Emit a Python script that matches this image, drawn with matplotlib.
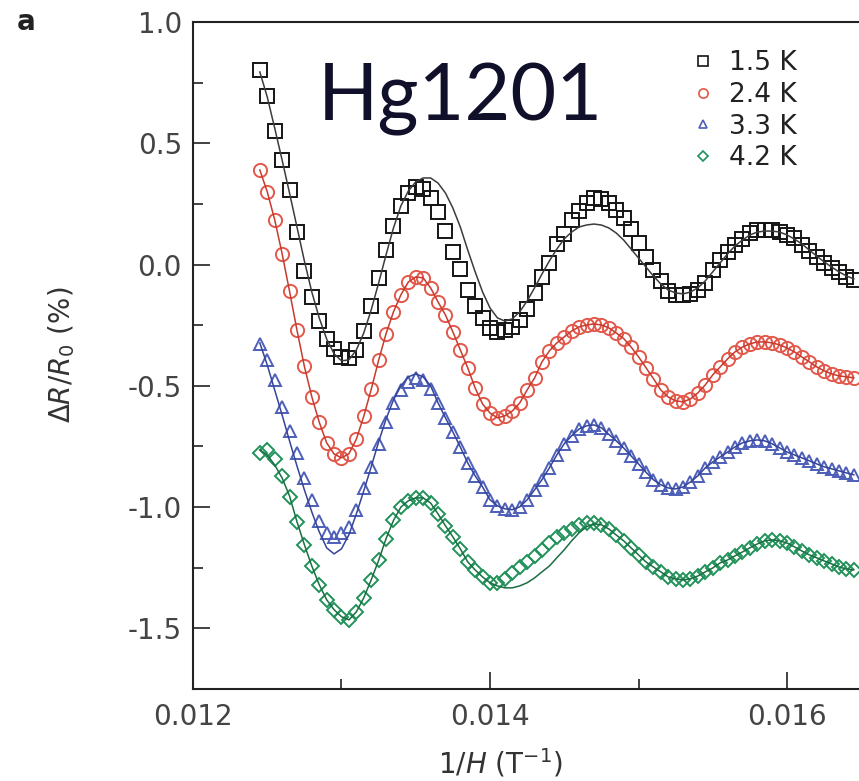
import numpy as np
import matplotlib as mpl
mpl.use('Agg')
import matplotlib.pyplot as plt
from matplotlib.lines import Line2D
from matplotlib.ticker import MultipleLocator, FormatStrFormatter

mpl.rcParams['axes.unicode_minus'] = False
mpl.rcParams['mathtext.fontset'] = 'dejavusans'

# 1/H grid of the readings (T^-1)
inv_h = np.round(np.linspace(0.01245, 0.01645, 81), 5)

labels = ['1.5 K', '2.4 K', '3.3 K', '4.2 K']

# Delta R / R0 (%) data points
dr_15 = [0.802, 0.695, 0.551, 0.431, 0.308, 0.135, -0.025, -0.134, -0.233, -0.306,
         -0.348, -0.380, -0.385, -0.352, -0.273, -0.170, -0.055, 0.060, 0.160, 0.240,
         0.295, 0.320, 0.312, 0.274, 0.217, 0.139, 0.052, -0.018, -0.105, -0.170,
         -0.220, -0.261, -0.278, -0.270, -0.257, -0.228, -0.183, -0.117, -0.051, 0.007,
         0.085, 0.126, 0.184, 0.221, 0.254, 0.275, 0.270, 0.254, 0.225, 0.192,
         0.147, 0.089, 0.031, -0.022, -0.067, -0.109, -0.125, -0.125, -0.121, -0.105,
         -0.076, -0.022, 0.019, 0.052, 0.081, 0.105, 0.130, 0.143, 0.143, 0.143,
         0.134, 0.122, 0.110, 0.081, 0.056, 0.031, 0.007, -0.014, -0.030, -0.051, -0.063]
dr_24 = [0.390, 0.300, 0.185, 0.045, -0.110, -0.270, -0.420, -0.545, -0.650, -0.735,
         -0.781, -0.797, -0.780, -0.720, -0.625, -0.515, -0.395, -0.285, -0.195, -0.125,
         -0.072, -0.051, -0.055, -0.096, -0.154, -0.208, -0.278, -0.352, -0.426, -0.509,
         -0.575, -0.612, -0.632, -0.624, -0.604, -0.571, -0.517, -0.468, -0.401, -0.356,
         -0.323, -0.298, -0.274, -0.257, -0.249, -0.245, -0.249, -0.261, -0.282, -0.305,
         -0.340, -0.380, -0.425, -0.470, -0.517, -0.546, -0.562, -0.566, -0.554, -0.529,
         -0.496, -0.455, -0.422, -0.389, -0.360, -0.340, -0.327, -0.319, -0.319, -0.323,
         -0.331, -0.344, -0.360, -0.381, -0.401, -0.422, -0.438, -0.451, -0.459, -0.463, -0.467]
dr_33 = [-0.327, -0.393, -0.476, -0.587, -0.686, -0.777, -0.880, -0.970, -1.057, -1.107,
         -1.123, -1.107, -1.082, -1.011, -0.921, -0.834, -0.739, -0.649, -0.570, -0.517,
         -0.484, -0.467, -0.476, -0.513, -0.570, -0.632, -0.690, -0.752, -0.818, -0.871,
         -0.917, -0.970, -0.995, -1.007, -1.011, -0.999, -0.970, -0.929, -0.887, -0.838,
         -0.785, -0.739, -0.706, -0.678, -0.665, -0.661, -0.673, -0.700, -0.727, -0.756,
         -0.789, -0.822, -0.856, -0.887, -0.908, -0.921, -0.925, -0.917, -0.896, -0.871,
         -0.838, -0.814, -0.793, -0.773, -0.752, -0.735, -0.727, -0.723, -0.727, -0.739,
         -0.756, -0.773, -0.785, -0.797, -0.809, -0.822, -0.834, -0.842, -0.851, -0.859, -0.867]
dr_42 = [-0.777, -0.765, -0.800, -0.870, -0.960, -1.060, -1.155, -1.243, -1.320, -1.382,
         -1.423, -1.452, -1.465, -1.432, -1.374, -1.300, -1.220, -1.130, -1.055, -1.000,
         -0.974, -0.962, -0.962, -0.983, -1.028, -1.077, -1.123, -1.172, -1.226, -1.259,
         -1.288, -1.312, -1.312, -1.296, -1.271, -1.247, -1.226, -1.201, -1.176, -1.148,
         -1.123, -1.106, -1.090, -1.073, -1.065, -1.065, -1.073, -1.090, -1.115, -1.139,
         -1.168, -1.197, -1.226, -1.247, -1.267, -1.288, -1.296, -1.300, -1.296, -1.284,
         -1.267, -1.251, -1.230, -1.218, -1.201, -1.185, -1.168, -1.152, -1.139, -1.135,
         -1.139, -1.148, -1.164, -1.181, -1.197, -1.209, -1.222, -1.234, -1.247, -1.255, -1.259]

# fitted curves
fit_15 = [0.794, 0.691, 0.563, 0.431, 0.295, 0.155, 0.015, -0.113, -0.220, -0.307,
          -0.368, -0.397, -0.393, -0.352, -0.282, -0.187, -0.076, 0.040, 0.151, 0.242,
          0.303, 0.341, 0.357, 0.357, 0.336, 0.295, 0.233, 0.155, 0.060, -0.030,
          -0.113, -0.179, -0.220, -0.233, -0.224, -0.195, -0.150, -0.096, -0.039, 0.015,
          0.064, 0.106, 0.134, 0.155, 0.163, 0.167, 0.163, 0.151, 0.130, 0.101,
          0.064, 0.027, -0.010, -0.047, -0.080, -0.105, -0.117, -0.121, -0.113, -0.096,
          -0.067, -0.030, 0.007, 0.044, 0.077, 0.101, 0.122, 0.134, 0.138, 0.138,
          0.134, 0.122, 0.105, 0.085, 0.060, 0.035, 0.011, -0.010, -0.030, -0.047, -0.059]
fit_24 = dr_24
fit_33 = [-0.323, -0.414, -0.517, -0.620, -0.727, -0.830, -0.929, -1.020, -1.102, -1.168,
          -1.193, -1.172, -1.114, -1.028, -0.933, -0.834, -0.731, -0.637, -0.558, -0.500,
          -0.463, -0.451, -0.463, -0.500] + dr_33[24:]
fit_42 = ([-0.764, -0.785, -0.826, -0.880, -0.954] + dr_42[5:30] +
          [-1.288, -1.312, -1.325, -1.333, -1.333, -1.325, -1.312, -1.292, -1.267, -1.243,
           -1.209, -1.176, -1.139, -1.106, -1.081, -1.069] + dr_42[46:])

# data, fit, marker, marker size, marker colour, line colour
series = [
    (dr_15, fit_15, 's', 9.5, '#151515', '#3c3c3c'),
    (dr_24, fit_24, 'o', 9.5, '#e2584a', '#c83a2e'),
    (dr_33, fit_33, '^', 9.0, '#4d5fb8', '#34449a'),
    (dr_42, fit_42, 'D', 7.5, '#22915a', '#1a6e42'),
]

fig = plt.figure(figsize=(8.59, 7.81), dpi=100)
ax = fig.add_axes([193 / 859, 92 / 781, 666 / 859, 667 / 781])

handles = []
for (data, fit, mk, ms, col, lcol), lab in zip(series, labels):
    ax.plot(inv_h, data, linestyle='none', marker=mk, ms=ms, mfc='none',
            mec=col, mew=1.4, zorder=2)
    ax.plot(inv_h, fit, color=lcol, lw=1.1, zorder=3)
    handles.append(Line2D([], [], linestyle='none', marker=mk, ms=ms * 0.7,
                          mfc='none', mec=col, mew=1.2))

ax.set_xlim(0.012, 0.012 + 666 / 148500.)
ax.set_ylim(-1.75, 1.0)

ax.xaxis.set_major_locator(MultipleLocator(0.002))
ax.xaxis.set_minor_locator(MultipleLocator(0.001))
ax.yaxis.set_major_locator(MultipleLocator(0.5))
ax.yaxis.set_minor_locator(MultipleLocator(0.25))
ax.xaxis.set_major_formatter(FormatStrFormatter('%.3f'))
ax.yaxis.set_major_formatter(FormatStrFormatter('%.1f'))

ax.tick_params(which='both', direction='in', width=1.2, colors='#222222',
               labelcolor='#444444', labelsize=20, top=False, right=False)
ax.tick_params(which='major', length=12)
ax.tick_params(which='minor', length=7)
ax.tick_params(axis='x', pad=10)
ax.tick_params(axis='y', pad=8)

for side in ['left', 'bottom', 'top']:
    ax.spines[side].set_linewidth(1.5)
    ax.spines[side].set_color('#222222')
ax.spines['right'].set_visible(False)

fig.text(500 / 859, 1 - 763 / 781, r'1/$H$ (T$^{-1}$)', ha='center', va='center',
         size=20, color='#333333')
fig.text(62 / 859, 1 - 355 / 781, r'$\Delta R/R_0$ (%)', ha='center', va='center',
         rotation=90, size=20, color='#333333')
fig.text(17 / 859, 1 - 30 / 781, 'a', ha='left', va='baseline', size=20,
         weight='bold', color='#222222')
fig.text(318 / 859, 1 - 120 / 781, 'Hg1201', ha='left', va='baseline', size=57,
         family=['Lato', 'DejaVu Sans'], color='#10102a')

ax.legend(handles, labels, loc='upper left', bbox_to_anchor=(692 / 859, 1 - 50 / 781),
          bbox_transform=fig.transFigure, frameon=False, fontsize=19,
          handlelength=0.8, handletextpad=0.6, labelspacing=0.22, borderpad=0,
          borderaxespad=0, labelcolor='#222222')

fig.savefig('out.png', dpi=100)
